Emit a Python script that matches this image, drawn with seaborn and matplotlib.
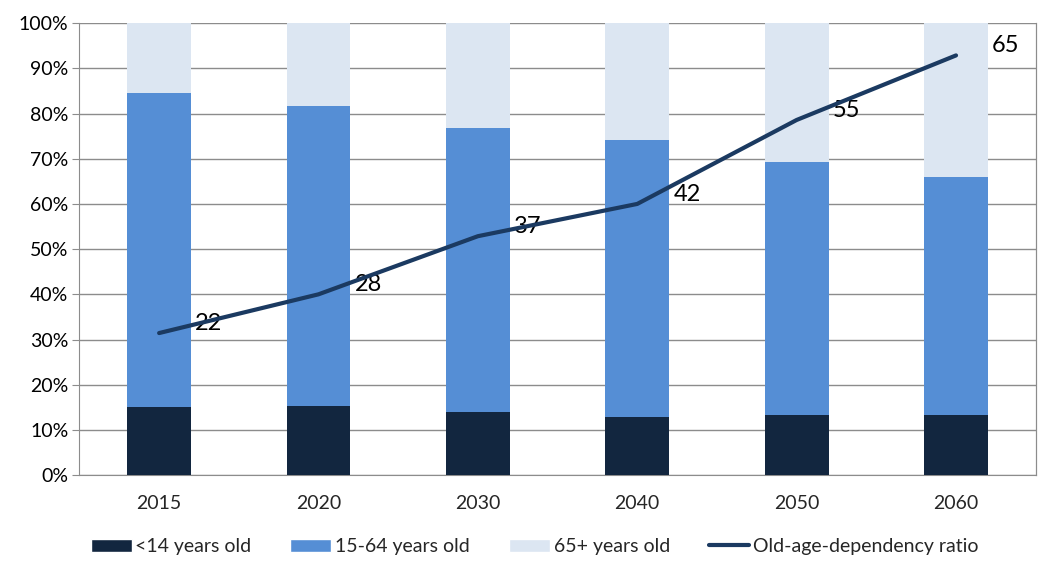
import numpy as np
import seaborn as sns
import matplotlib.pyplot as plt
from matplotlib.patches import Patch
from matplotlib.lines import Line2D

# Population structure by age group (share of total, %) and old-age dependency ratio
years = ["2015", "2020", "2030", "2040", "2050", "2060"]
under_14 = [15.0, 15.2, 14.0, 12.8, 13.2, 13.4]
age_15_64 = [69.5, 66.5, 62.8, 61.4, 56.1, 52.6]
age_65_plus = [15.5, 18.3, 23.2, 25.8, 30.7, 34.0]
dependency_ratio = [22, 28, 37, 42, 55, 65]

dark = "#12263F"
mid = "#558ED5"
light = "#DCE6F2"
line_col = "#1B3A61"
grid_col = "#8C8C8C"

sns.set_style("white")
plt.rcParams["font.family"] = ["Lato", "DejaVu Sans"]

fig, ax = plt.subplots(figsize=(10.59, 5.78), dpi=100)
fig.subplots_adjust(left=0.075, right=0.978, top=0.96, bottom=0.178)

# Stacked bars drawn as cumulative totals, tallest first
top = np.array(under_14) + np.array(age_15_64) + np.array(age_65_plus)
mid_top = np.array(under_14) + np.array(age_15_64)
sns.barplot(x=years, y=top, color=light, width=0.4, saturation=1, ax=ax, zorder=2)
sns.barplot(x=years, y=mid_top, color=mid, width=0.4, saturation=1, ax=ax, zorder=3)
sns.barplot(x=years, y=under_14, color=dark, width=0.4, saturation=1, ax=ax, zorder=4)
for p in ax.patches:
    p.set_edgecolor("none")

ax.set_ylim(0, 100)
ax.set_xlim(-0.5, len(years) - 0.5)
ax.set_yticks(range(0, 101, 10))
ax.set_yticklabels([f"{v}%" for v in range(0, 101, 10)])
ax.yaxis.grid(True, color=grid_col, linewidth=1)
ax.set_axisbelow(True)
ax.set_xlabel("")
ax.set_ylabel("")
for s in ["left", "bottom", "right"]:
    ax.spines[s].set_color(grid_col)
ax.spines["top"].set_visible(False)
ax.tick_params(axis="y", labelsize=14, colors="#000000", length=5, color=grid_col, pad=3)
ax.tick_params(axis="x", labelsize=14, length=0, pad=14)
# boundary tick marks between categories
ax.set_xticks(np.arange(-0.5, len(years)), minor=True)
ax.tick_params(axis="x", which="minor", length=6, color=grid_col)

# Dependency ratio on a hidden secondary axis
ax2 = ax.twinx()
sns.lineplot(x=np.arange(len(years)), y=dependency_ratio, ax=ax2, color=line_col,
             linewidth=3, zorder=5)
ax2.set_ylim(0, 70)
ax2.set_xlim(-0.5, len(years) - 0.5)
ax2.set_yticks([])
for s in ax2.spines.values():
    s.set_visible(False)
ax2.spines["right"].set_visible(True)
ax2.spines["right"].set_color(grid_col)
for i, v in enumerate(dependency_ratio):
    ax2.annotate(str(v), (i, v), xytext=(26, 7), textcoords="offset points",
                 ha="left", va="center", fontsize=17, color="#000000")

handles = [
    Patch(facecolor=dark, label="<14 years old"),
    Patch(facecolor=mid, label="15-64 years old"),
    Patch(facecolor=light, label="65+ years old"),
    Line2D([0], [0], color=line_col, linewidth=3, label="Old-age-dependency ratio"),
]
fig.legend(handles=handles, loc="center", bbox_to_anchor=(0.505, 0.054), ncol=4,
           frameon=False, fontsize=14, handlelength=2.1, handleheight=0.7,
           handletextpad=0.2, columnspacing=2.0)

plt.savefig("out.png", dpi=100)
